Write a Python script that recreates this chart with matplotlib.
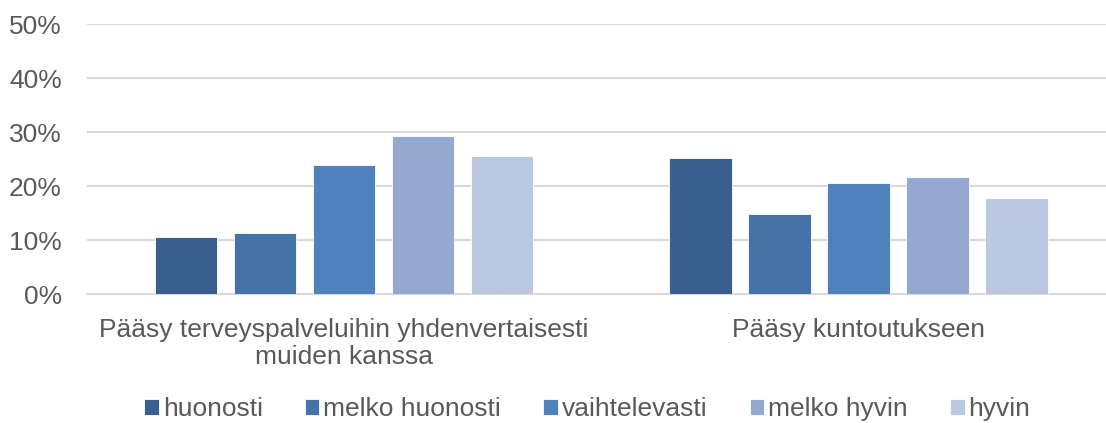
import matplotlib
matplotlib.use("Agg")
import matplotlib.pyplot as plt
import numpy as np

plt.rcParams["font.family"] = ["Liberation Sans", "DejaVu Sans"]

categories = [
    "Pääsy terveyspalveluihin yhdenvertaisesti\nmuiden kanssa",
    "Pääsy kuntoutukseen",
]
series_labels = ["huonosti", "melko huonosti", "vaihtelevasti", "melko hyvin", "hyvin"]
values = {
    "huonosti": [10.5, 25.2],
    "melko huonosti": [11.3, 14.9],
    "vaihtelevasti": [23.8, 20.5],
    "melko hyvin": [29.2, 21.7],
    "hyvin": [25.5, 17.7],
}
colors = ["#3A5F8E", "#4573A7", "#4F81BD", "#95A9D0", "#BCC8E1"]
yticks = [0, 10, 20, 30, 40, 50]

text_color = "#595959"
grid_color = "#D9D9D9"

fig = plt.figure(figsize=(11.06, 4.23), dpi=100)
# axes spans x 87..1106 px, y 24..294 px
ax = fig.add_axes([87 / 1106, 1 - 294 / 423, 1 - 87 / 1106, 270 / 423])

x = np.arange(len(categories))
step = 0.1535
width = 0.1215
for i, (label, color) in enumerate(zip(series_labels, colors)):
    offs = (i - 2) * step
    ax.bar(x + offs, values[label], width=width, color=color, label=label,
           edgecolor="white", linewidth=0.6, zorder=3)

ax.set_xlim(-0.4995, 1.481)
ax.set_ylim(0, 50)
ax.set_yticks(yticks)
ax.set_yticklabels([f"{t}%" for t in yticks])
ax.set_xticks(x)
ax.set_xticklabels(categories, linespacing=1.2)
ax.yaxis.grid(True, color=grid_color, linewidth=1.5, zorder=0)
ax.set_axisbelow(True)
for side in ["top", "right", "left"]:
    ax.spines[side].set_visible(False)
ax.spines["bottom"].set_color(grid_color)
ax.spines["bottom"].set_linewidth(1.5)
ax.tick_params(axis="both", length=0, labelsize=19, colors=text_color)
ax.tick_params(axis="y", pad=18)
ax.tick_params(axis="x", pad=17)

leg = fig.legend(
    loc="center",
    bbox_to_anchor=(0.531, 1 - 409 / 423),
    ncol=5,
    frameon=False,
    fontsize=19,
    handlelength=0.55,
    handleheight=0.55,
    handletextpad=0.15,
    columnspacing=1.6,
    borderpad=0,
)
for t in leg.get_texts():
    t.set_color(text_color)

fig.savefig("out.png", dpi=100)
